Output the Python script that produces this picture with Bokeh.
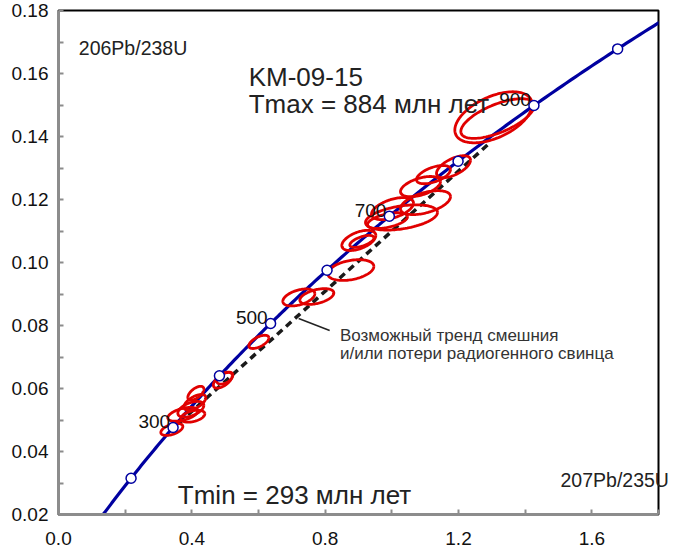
import numpy as np
from bokeh.plotting import figure
from bokeh.models import FixedTicker, PrintfTickFormatter, Label, ColumnDataSource
from bokeh.core.properties import value
from bokeh.embed import file_html
from bokeh.resources import INLINE

# U decay constants, 1/yr
LAMBDA_238 = 1.55125e-10
LAMBDA_235 = 9.8485e-10

# ages (Ma) marked on the concordia, and the ones that carry a label
marker_ages = [200, 300, 400, 500, 600, 700, 800, 900, 1000]
labelled_ages = [300, 500, 700, 900]

# intercept ages of the mixing / Pb-loss trend (Ma)
t_min = 293
t_max = 884
trend_x_end = [0.335, 1.29]

# analyses: 207Pb/235U, 206Pb/238U, half-extents of the error ellipses, error correlation
ell_x = [0.340, 0.373, 0.403, 0.397, 0.409, 0.412, 0.493, 0.499,
         0.601, 0.721, 0.775, 0.877,
         0.901, 0.910, 0.987, 1.029, 1.002, 1.101, 1.086, 1.125, 1.185,
         1.305, 1.317]
ell_y = [0.0470, 0.0518, 0.0512, 0.0534, 0.0556, 0.0585, 0.0626, 0.0633,
         0.0748, 0.0889, 0.0892, 0.0976,
         0.1070, 0.1067, 0.1133, 0.1143, 0.1171, 0.1190, 0.1241, 0.1279, 0.1304,
         0.1461, 0.1457]
ell_sx = [0.033, 0.045, 0.036, 0.039, 0.033, 0.024, 0.0285, 0.024,
          0.030, 0.048, 0.051, 0.069,
          0.051, 0.036, 0.060, 0.108, 0.063, 0.075, 0.060, 0.051, 0.051,
          0.116, 0.110]
ell_sy = [0.0019, 0.0022, 0.0019, 0.0025, 0.0025, 0.0022, 0.0025, 0.0019,
          0.0021, 0.0027, 0.0025, 0.0033,
          0.0032, 0.0019, 0.0025, 0.0040, 0.0035, 0.0038, 0.0032, 0.0029, 0.0035,
          0.0081, 0.0063]
ell_rho = [0.5, 0.5, 0.4, 0.5, 0.6, 0.6, 0.6, 0.5,
           0.6, 0.45, 0.45, 0.35,
           0.5, 0.6, 0.5, 0.4, 0.5, 0.5, 0.5, 0.55, 0.6,
           0.5, 0.65]

x_ticks = [0.0, 0.4, 0.8, 1.2, 1.6]
x_minor = [0.2, 0.6, 1.0, 1.4, 1.8]
y_ticks = [0.02, 0.04, 0.06, 0.08, 0.10, 0.12, 0.14, 0.16, 0.18]
y_minor = [0.03, 0.05, 0.07, 0.09, 0.11, 0.13, 0.15, 0.17]


def concordia(t_ma):
    t = np.asarray(t_ma, dtype=float) * 1e6
    return np.exp(LAMBDA_235 * t) - 1.0, np.exp(LAMBDA_238 * t) - 1.0


FONT = "Liberation Sans"
RED = "#e00000"
NAVY = "#0000a0"
GREY = "#8c8c8c"

p = figure(frame_width=600, frame_height=504,
           x_range=(0.0, 1.8), y_range=(0.02, 0.18),
           output_backend="svg", toolbar_location=None,
           min_border_left=58, min_border_right=18,
           min_border_top=10, min_border_bottom=38)
p.grid.visible = False
p.outline_line_color = "black"
p.outline_line_width = 2
p.background_fill_color = "white"
p.border_fill_color = "white"

for ax, ticks, minor, fmt in ((p.xaxis[0], x_ticks, x_minor, "%.1f"),
                              (p.yaxis[0], y_ticks, y_minor, "%.2f")):
    ax.ticker = FixedTicker(ticks=ticks, minor_ticks=minor)
    ax.formatter = PrintfTickFormatter(format=fmt)
    ax.axis_line_color = GREY
    ax.axis_line_width = 3
    ax.major_tick_line_color = GREY
    ax.minor_tick_line_color = GREY
    ax.major_tick_line_width = 2
    ax.minor_tick_line_width = 2
    ax.major_tick_in = 5
    ax.major_tick_out = 0
    ax.minor_tick_in = 5
    ax.minor_tick_out = 0
    ax.major_label_text_font = FONT
    ax.major_label_text_font_size = "19px"
    ax.major_label_text_color = "#111111"
p.xaxis.major_label_standoff = 17
p.yaxis.major_label_standoff = 10

# discordia chord between the two intercept ages
cx0, cy0 = concordia(t_min)
cx1, cy1 = concordia(t_max)
slope = (cy1 - cy0) / (cx1 - cx0)
tx = np.array(trend_x_end)
ty = cy0 + slope * (tx - cx0)
p.line(tx, ty, line_color="#1a1a1a", line_width=3.5, line_dash="7 5")

# concordia curve
curve_ages = np.arange(0, 1205, 5)
kx, ky = concordia(curve_ages)
p.line(kx, ky, line_color=NAVY, line_width=3.2)

# error ellipses
theta = np.linspace(0, 2 * np.pi, 121)
xs, ys = [], []
for cx, cy, sx, sy, r in zip(ell_x, ell_y, ell_sx, ell_sy, ell_rho):
    xs.append(cx + sx * np.cos(theta))
    ys.append(cy + sy * (r * np.cos(theta) + np.sqrt(1 - r * r) * np.sin(theta)))
p.multi_line(xs, ys, line_color=RED, line_width=2.8)

# age markers
mx, my = concordia(marker_ages)
p.scatter(mx, my, size=10, fill_color="white", line_color=NAVY, line_width=1.5)

lx, ly = concordia(labelled_ages)
age_src = ColumnDataSource(dict(x=lx, y=ly, t=[str(a) for a in labelled_ages]))
p.text("x", "y", text="t", source=age_src, text_align="right",
       text_baseline="alphabetic", x_offset=-3, y_offset=-6,
       text_font=value(FONT), text_font_size="19px", text_color="#111111")

# leader line for the trend note
p.line([0.7205, 0.8135], [0.0822, 0.0784], line_color="#222222", line_width=1.5)


def make_label(x, y, text, size, color="#222222"):
    return Label(x=x, y=y, text=text, text_font=FONT,
                 text_font_size=size, text_color=color,
                 text_baseline="alphabetic", text_align="left")


p.add_layout(make_label(0.061, 0.1680, "206Pb/238U", "19.5px"))
# the x-ratio label runs past the right edge of the frame, so it lives in the
# right-hand panel where it is not clipped
p.add_layout(make_label(1.506, 0.0308, "207Pb/235U", "19.5px"), "right")
p.add_layout(make_label(0.5706, 0.1590, "KM-09-15", "26px"))
p.add_layout(make_label(0.5706, 0.1504, f"Tmax = {t_max} млн лет", "26px"))
p.add_layout(make_label(0.358, 0.0261, f"Tmin = {t_min} млн лет", "26px"))
p.add_layout(make_label(0.8443, 0.0767, "Возможный тренд смешния", "17px", "#333333"))
p.add_layout(make_label(0.8443, 0.0710, "и/или потери радиогенного свинца", "17px", "#333333"))

open("out.html", "w").write(file_html(p, INLINE))
